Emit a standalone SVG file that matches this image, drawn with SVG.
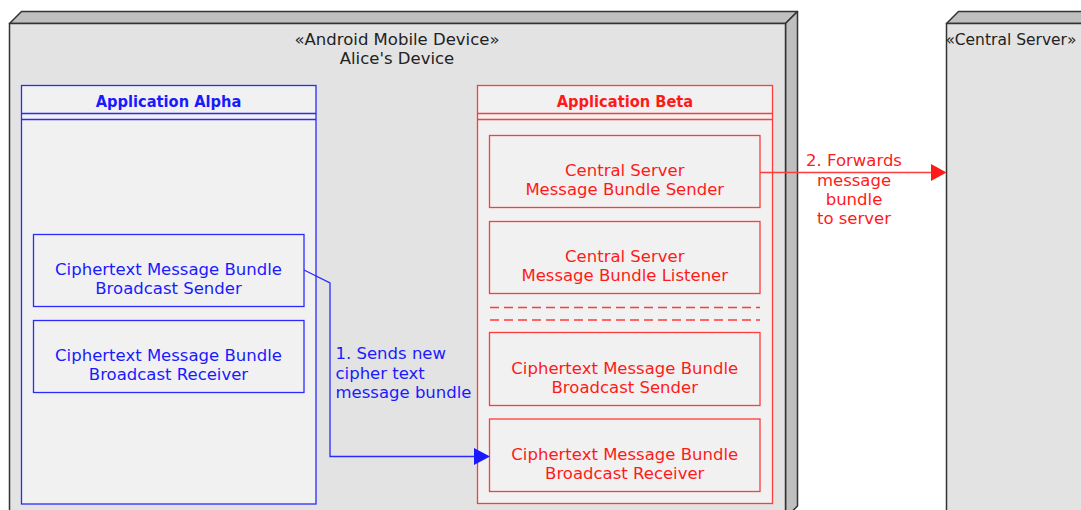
<svg xmlns="http://www.w3.org/2000/svg" width="1081" height="510" viewBox="0 0 1081 510">
  <style>
    text { font-family: "DejaVu Sans", "Verdana", sans-serif; font-size: 16.5px; }
    .title { font-family: "DejaVu Sans Condensed", "DejaVu Sans", sans-serif; font-weight: bold; font-size: 16.3px; }
    .dark { fill: #222222; }
    .blue { fill: #1a1aff; }
    .red { fill: #ff1a1a; }
    .front { fill: #e3e3e3; stroke: #333333; stroke-width: 1.5; }
    .face { fill: #bfbfbf; stroke: #333333; stroke-width: 1.5; stroke-linejoin: round; }
    .boxB { fill: #f1f1f1; stroke: #2a2aff; stroke-width: 1.3; }
    .boxR { fill: #f1f1f1; stroke: #ff3b3b; stroke-width: 1.3; }
    .lineB { stroke: #2a2aff; stroke-width: 1.3; fill: none; }
    .lineR { stroke: #ff3b3b; stroke-width: 1.3; fill: none; }
    .mid { text-anchor: middle; }
  </style>

  <!-- Android device node -->
  <g id="alice-device">
    <polygon class="face" points="9.5,23.5 21.5,11.5 797.5,11.5 785.5,23.5"/>
    <polygon class="face" points="785.5,23.5 797.5,11.5 797.5,506 785.5,518"/>
    <rect class="front" x="9.5" y="23.5" width="776" height="495"/>
    <text class="dark mid" x="397" y="45">«Android Mobile Device»</text>
    <text class="dark mid" x="397" y="64">Alice's Device</text>
  </g>

  <!-- Central server node -->
  <g id="central-server">
    <polygon class="face" points="946.5,23.5 958.5,11.5 1095,11.5 1083,23.5"/>
    <rect class="front" x="946.5" y="23.5" width="136" height="495"/>
    <text class="dark" x="945.5" y="45" font-size="16px" textLength="131" lengthAdjust="spacingAndGlyphs">«Central Server»</text>
  </g>

  <!-- Application Alpha -->
  <g id="app-alpha">
    <rect class="boxB" x="21.5" y="85.5" width="294.5" height="418.5"/>
    <line class="lineB" x1="21.5" y1="113.5" x2="316" y2="113.5"/>
    <line class="lineB" x1="21.5" y1="119.5" x2="316" y2="119.5"/>
    <text class="blue title mid" x="168.5" y="107">Application Alpha</text>
  </g>
  <g id="alpha-sender">
    <rect class="boxB" x="33.5" y="234.5" width="270.5" height="72"/>
    <text class="blue mid" x="168.5" y="275">Ciphertext Message Bundle</text>
    <text class="blue mid" x="168.5" y="293.5">Broadcast Sender</text>
  </g>
  <g id="alpha-receiver">
    <rect class="boxB" x="33.5" y="320.5" width="270.5" height="72"/>
    <text class="blue mid" x="168.5" y="361">Ciphertext Message Bundle</text>
    <text class="blue mid" x="168.5" y="379.5">Broadcast Receiver</text>
  </g>

  <!-- Application Beta -->
  <g id="app-beta">
    <rect class="boxR" x="477.5" y="85.5" width="295" height="418"/>
    <line class="lineR" x1="477.5" y1="113.5" x2="772.5" y2="113.5"/>
    <line class="lineR" x1="477.5" y1="119.5" x2="772.5" y2="119.5"/>
    <text class="red title mid" x="625" y="107">Application Beta</text>
    <line class="lineR" x1="490" y1="307.5" x2="760" y2="307.5" stroke-dasharray="9,5"/>
    <line class="lineR" x1="490" y1="320" x2="760" y2="320" stroke-dasharray="9,5"/>
  </g>
  <g id="beta-server-sender">
    <rect class="boxR" x="489.5" y="135.5" width="270.5" height="72"/>
    <text class="red mid" x="624.75" y="176">Central Server</text>
    <text class="red mid" x="624.75" y="194.5">Message Bundle Sender</text>
  </g>
  <g id="beta-server-listener">
    <rect class="boxR" x="489.5" y="221.5" width="270.5" height="72"/>
    <text class="red mid" x="624.75" y="262">Central Server</text>
    <text class="red mid" x="624.75" y="280.5">Message Bundle Listener</text>
  </g>
  <g id="beta-sender">
    <rect class="boxR" x="489.5" y="332.5" width="270.5" height="73"/>
    <text class="red mid" x="624.75" y="374">Ciphertext Message Bundle</text>
    <text class="red mid" x="624.75" y="392.5">Broadcast Sender</text>
  </g>
  <g id="beta-receiver">
    <rect class="boxR" x="489.5" y="419" width="270.5" height="72.5"/>
    <text class="red mid" x="624.75" y="460">Ciphertext Message Bundle</text>
    <text class="red mid" x="624.75" y="478.5">Broadcast Receiver</text>
  </g>

  <!-- Connectors -->
  <g id="connectors">
    <polyline class="lineB" points="304,270 330,283 330,456.5 475,456.5"/>
    <polygon fill="#1a1aff" points="474,448 490,456.5 474,465"/>
    <text class="blue" x="335.5" y="359">1. Sends new</text>
    <text class="blue" x="335.5" y="378.5">cipher text</text>
    <text class="blue" x="335.5" y="397.5">message bundle</text>

    <line class="lineR" x1="760" y1="172.5" x2="932" y2="172.5"/>
    <polygon fill="#ff1a1a" points="931,164 946.5,172.5 931,181"/>
    <text class="red mid" x="854" y="166">2. Forwards</text>
    <text class="red mid" x="854" y="185.5">message</text>
    <text class="red mid" x="854" y="204.5">bundle</text>
    <text class="red mid" x="854" y="223.5">to server</text>
  </g>
</svg>
